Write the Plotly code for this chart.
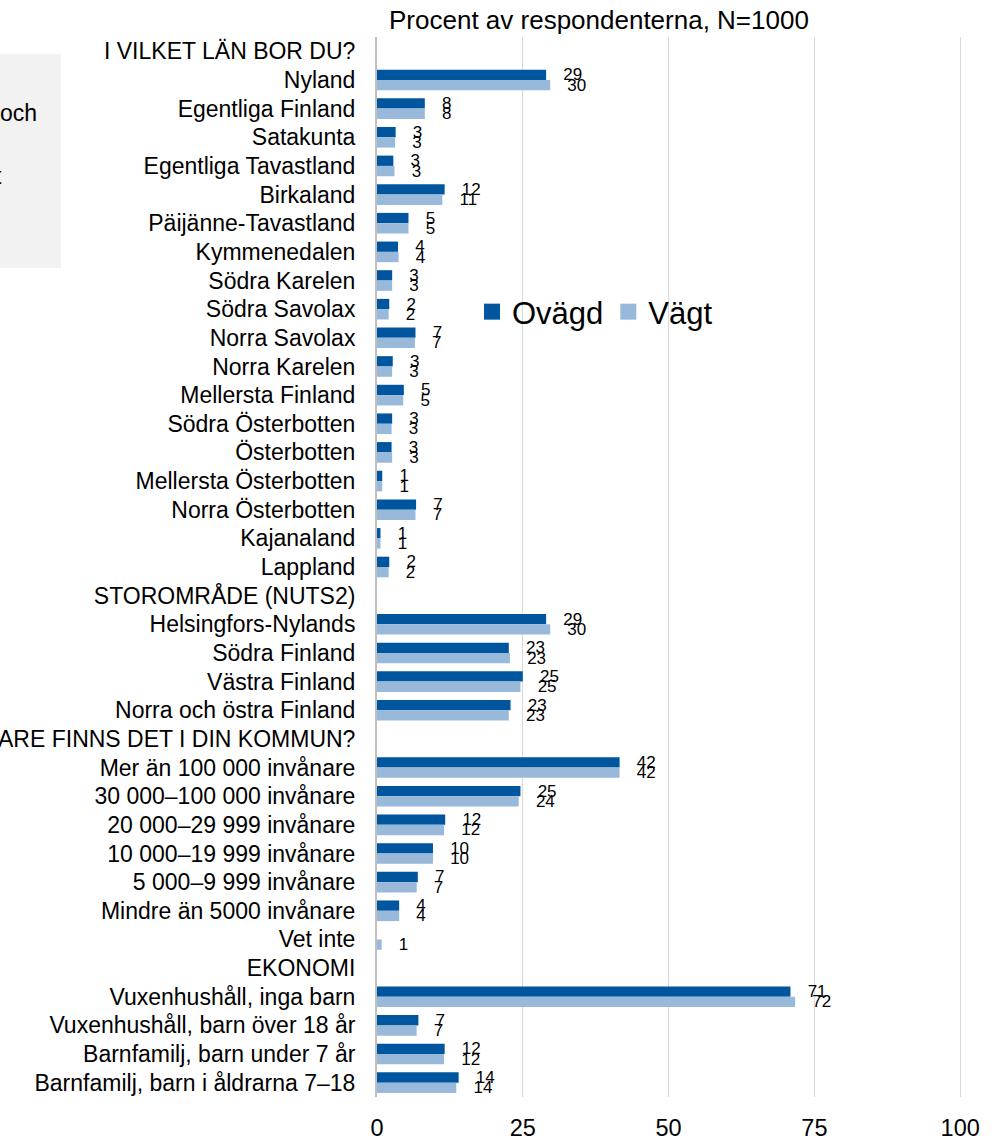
import plotly.graph_objects as go

categories = [
    "I VILKET LÄN BOR DU?",
    "Nyland", "Egentliga Finland", "Satakunta", "Egentliga Tavastland", "Birkaland",
    "Päijänne-Tavastland", "Kymmenedalen", "Södra Karelen", "Södra Savolax",
    "Norra Savolax", "Norra Karelen", "Mellersta Finland", "Södra Österbotten",
    "Österbotten", "Mellersta Österbotten", "Norra Österbotten", "Kajanaland", "Lappland",
    "STOROMRÅDE (NUTS2)",
    "Helsingfors-Nylands", "Södra Finland", "Västra Finland", "Norra och östra Finland",
    "HUR MÅNGA INVÅNARE FINNS DET I DIN KOMMUN?",
    "Mer än 100 000 invånare", "30 000–100 000 invånare", "20 000–29 999 invånare",
    "10 000–19 999 invånare", "5 000–9 999 invånare", "Mindre än 5000 invånare", "Vet inte",
    "EKONOMI",
    "Vuxenhushåll, inga barn", "Vuxenhushåll, barn över 18 år",
    "Barnfamilj, barn under 7 år", "Barnfamilj, barn i åldrarna 7–18",
]

ovagd = [
    None,
    29.0, 8.2, 3.2, 2.8, 11.6, 5.4, 3.6, 2.6, 2.1, 6.6, 2.7, 4.6, 2.6, 2.5, 0.9, 6.7, 0.6, 2.1,
    None,
    29.0, 22.6, 25.0, 22.9,
    None,
    41.6, 24.6, 11.7, 9.6, 7.0, 3.8, None,
    None,
    70.9, 7.1, 11.6, 14.0,
]

vagt = [
    None,
    29.7, 8.2, 3.1, 3.0, 11.2, 5.4, 3.7, 2.6, 2.0, 6.5, 2.6, 4.5, 2.5, 2.6, 0.9, 6.6, 0.6, 2.0,
    None,
    29.7, 22.8, 24.6, 22.6,
    None,
    41.6, 24.3, 11.5, 9.6, 6.8, 3.8, 0.8,
    None,
    71.7, 6.8, 11.5, 13.6,
]

series_names = ["Ovägd", "Vägt"]
x_ticks = [0, 25, 50, 75, 100]

W, H = 1006, 1142
L, R, T, B = 377, 966, 37, 1097


def px_x(p):
    return (p - L) / (R - L)


def px_y(p):
    return (B - p) / (B - T)


FONT = "Liberation Sans, Arial, sans-serif"
DARK = "#00559f"
LIGHT = "#98b9da"
COLORS = [DARK, LIGHT]

label_tpl = "\u00a0\u00a0\u00a0%{x:.0f}"

fig = go.Figure()
for name, vals, col in zip(series_names, [ovagd, vagt], COLORS):
    fig.add_trace(go.Bar(
        name=name, y=categories, x=vals, orientation="h",
        marker=dict(color=col, line=dict(width=0)),
        texttemplate=label_tpl, textposition="outside", constraintext="none",
        cliponaxis=False, textfont=dict(size=17, color="#000000", family=FONT),
        showlegend=False, legendgroup=name,
    ))
# legend entries (square swatches)
for name, col in zip(series_names, COLORS):
    fig.add_trace(go.Scatter(
        name=name, x=[None], y=[None], mode="markers",
        marker=dict(symbol="square", size=16, color=col),
        showlegend=True, legendgroup=name, hoverinfo="skip",
    ))

fig.update_layout(
    width=W, height=H,
    margin=dict(l=L, r=W - R, t=T, b=H - B, pad=0, autoexpand=False),
    paper_bgcolor="white", plot_bgcolor="white",
    barmode="group", bargap=0.28, bargroupgap=0,
    font=dict(family=FONT, color="#000000"),
    showlegend=True,
    legend=dict(
        orientation="h", x=px_x(472), y=px_y(312), xanchor="left", yanchor="middle",
        font=dict(size=31, family=FONT, color="#000000"), bgcolor="rgba(0,0,0,0)",
        traceorder="normal", itemwidth=30, itemsizing="trace",
    ),
    xaxis=dict(
        range=[0, 101], tickvals=x_ticks, ticktext=[str(v) for v in x_ticks],
        showgrid=True, gridcolor="#d9d9d9", gridwidth=1,
        zeroline=False, showline=False, automargin=False,
        tickfont=dict(size=23.5, family=FONT, color="#000000"),
        ticklabelstandoff=14, fixedrange=True,
    ),
    yaxis=dict(
        categoryorder="array", categoryarray=categories, autorange="reversed",
        showgrid=False, zeroline=False, automargin=False,
        showline=True, linecolor="#bfbfbf", linewidth=2,
        tickfont=dict(size=23, family=FONT, color="#000000"),
        ticklabelstandoff=15, fixedrange=True,
    ),
    shapes=[
        dict(type="rect", xref="paper", yref="paper",
             x0=px_x(-5), x1=px_x(61), y0=px_y(268), y1=px_y(54),
             fillcolor="#f2f2f2", line=dict(width=0), layer="below"),
    ],
    annotations=[
        dict(text="Procent av respondenterna, N=1000", xref="paper", yref="paper",
             x=px_x(599), y=px_y(20), xanchor="center", yanchor="middle",
             showarrow=False, font=dict(size=26, family=FONT, color="#000000")),
        dict(text="och", xref="paper", yref="paper",
             x=px_x(39), y=px_y(113), xanchor="right", yanchor="middle",
             showarrow=False, font=dict(size=23, family=FONT, color="#000000")),
        dict(text="t", xref="paper", yref="paper",
             x=px_x(4), y=px_y(176), xanchor="right", yanchor="middle",
             showarrow=False, font=dict(size=23, family=FONT, color="#000000")),
    ],
)

fig.write_html(
    "out.html",
    config={"displayModeBar": False},
    post_script="document.body.style.margin='0';document.body.style.overflow='hidden';",
)
